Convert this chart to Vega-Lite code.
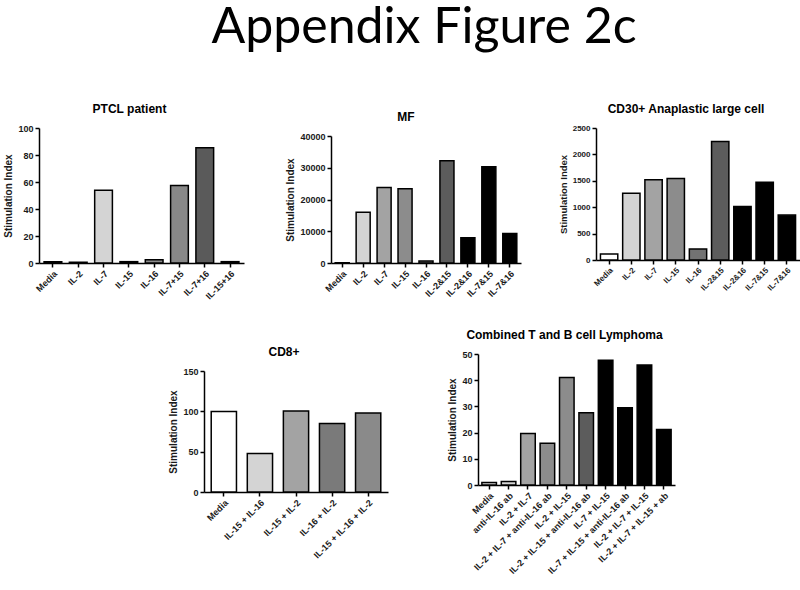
{
  "$schema": "https://vega.github.io/schema/vega-lite/v6.json",
  "background": "white",
  "padding": {"left": 3, "top": 3, "right": 0, "bottom": 0},
  "title": {"text": "Appendix Figure 2c", "font": "Lato", "fontSize": 50, "fontWeight": "normal", "color": "black", "anchor": "middle", "dx": 22, "offset": 49},
  "datasets": {
    "ptcl": [
      {"condition": "Media", "index": 1},
      {"condition": "IL-2", "index": 0.5},
      {"condition": "IL-7", "index": 53.8},
      {"condition": "IL-15", "index": 1},
      {"condition": "IL-16", "index": 2.5},
      {"condition": "IL-7+15", "index": 57.5},
      {"condition": "IL-7+16", "index": 85.4},
      {"condition": "IL-15+16", "index": 1}
    ],
    "mf": [
      {"condition": "Media", "index": 100},
      {"condition": "IL-2", "index": 15980},
      {"condition": "IL-7", "index": 23800},
      {"condition": "IL-15", "index": 23400},
      {"condition": "IL-16", "index": 630},
      {"condition": "IL-2&15", "index": 32170},
      {"condition": "IL-2&16", "index": 7940},
      {"condition": "IL-7&15", "index": 30290},
      {"condition": "IL-7&16", "index": 9300}
    ],
    "cd30": [
      {"condition": "Media", "index": 113},
      {"condition": "IL-2", "index": 1266},
      {"condition": "IL-7", "index": 1518},
      {"condition": "IL-15", "index": 1543},
      {"condition": "IL-16", "index": 208},
      {"condition": "IL-2&15", "index": 2242},
      {"condition": "IL-2&16", "index": 1014},
      {"condition": "IL-7&15", "index": 1474},
      {"condition": "IL-7&16", "index": 850}
    ],
    "cd8": [
      {"condition": "Media", "index": 99.7},
      {"condition": "IL-15 + IL-16", "index": 47.8},
      {"condition": "IL-15 + IL-2", "index": 100.5},
      {"condition": "IL-16 + IL-2", "index": 84.9},
      {"condition": "IL-15 + IL-16 + IL-2", "index": 98}
    ],
    "combined": [
      {"condition": "Media", "index": 1.0},
      {"condition": "anti-IL-16 ab", "index": 1.3},
      {"condition": "IL-2 + IL-7", "index": 19.7},
      {"condition": "IL-2 + IL-7 + anti-IL-16 ab", "index": 15.9},
      {"condition": "IL-2 + IL-15", "index": 41},
      {"condition": "IL-2 + IL-15 + anti-IL-16 ab", "index": 27.6},
      {"condition": "IL-7 + IL-15", "index": 47.6},
      {"condition": "IL-7 + IL-15 + anti-IL-16 ab", "index": 29.5},
      {"condition": "IL-2 + IL-7 + IL-15", "index": 45.8},
      {"condition": "IL-2 + IL-7 + IL-15 + ab", "index": 21.2}
    ]
  },
  "resolve": {"scale": {"color": "independent"}},
  "spacing": 23,
  "vconcat": [
    {
      "spacing": 37,
      "resolve": {"scale": {"color": "independent"}},
      "hconcat": [
        {
          "spacing": 41,
          "resolve": {"scale": {"color": "independent"}},
          "hconcat": [
            {
              "spacing": 0,
              "resolve": {"scale": {"color": "independent"}},
              "vconcat": [
                {"data": {"values": []}, "mark": "point", "width": 10, "height": 1, "encoding": {}},
                {
                  "data": {"name": "ptcl"},
                  "width": 205, "height": 135,
                  "title": {"text": "PTCL patient", "dx": -12},
                  "mark": {"type": "bar", "stroke": "black", "strokeWidth": 1.5},
                  "encoding": {
                    "x": {"field": "condition", "type": "nominal", "sort": null, "scale": {"paddingInner": 0.3, "paddingOuter": 0.2}},
                    "y": {"field": "index", "type": "quantitative", "scale": {"domain": [0, 100], "nice": false}, "axis": {"title": "Stimulation Index", "values": [0, 20, 40, 60, 80, 100]}},
                    "color": {"field": "condition", "type": "nominal", "sort": null, "legend": null,
                      "scale": {"domain": ["Media", "IL-2", "IL-7", "IL-15", "IL-16", "IL-7+15", "IL-7+16", "IL-15+16"],
                                "range": ["#ffffff", "#ffffff", "#d4d4d4", "#a3a3a3", "#8a8a8a", "#888888", "#5a5a5a", "#444444"]}}
                  }
                }
              ]
            },
            {
              "spacing": 0,
              "resolve": {"scale": {"color": "independent"}},
              "vconcat": [
                {"data": {"values": []}, "mark": "point", "width": 10, "height": 9, "encoding": {}},
                {
                  "data": {"name": "mf"},
                  "width": 190, "height": 127,
                  "title": {"text": "MF", "dx": -20},
                  "mark": {"type": "bar", "stroke": "black", "strokeWidth": 1.5},
                  "encoding": {
                    "x": {"field": "condition", "type": "nominal", "sort": null, "scale": {"paddingInner": 0.33, "paddingOuter": 0.2}},
                    "y": {"field": "index", "type": "quantitative", "scale": {"domain": [0, 40000], "nice": false}, "axis": {"title": "Stimulation Index", "format": "d", "values": [0, 10000, 20000, 30000, 40000]}},
                    "color": {"field": "condition", "type": "nominal", "sort": null, "legend": null,
                      "scale": {"domain": ["Media", "IL-2", "IL-7", "IL-15", "IL-16", "IL-2&15", "IL-2&16", "IL-7&15", "IL-7&16"],
                                "range": ["#ffffff", "#d4d4d4", "#a3a3a3", "#8c8c8c", "#737373", "#5c5c5c", "#000000", "#000000", "#000000"]}}
                  }
                }
              ]
            }
          ]
        },
        {
          "spacing": 0,
          "resolve": {"scale": {"color": "independent"}},
          "vconcat": [
            {"data": {"values": []}, "mark": "point", "width": 10, "height": 1, "encoding": {}},
            {
              "data": {"name": "cd30"},
              "width": 204, "height": 132,
              "title": {"text": "CD30+ Anaplastic large cell", "dx": -12},
              "mark": {"type": "bar", "stroke": "black", "strokeWidth": 1.5},
              "encoding": {
                "x": {"field": "condition", "type": "nominal", "sort": null, "scale": {"paddingInner": 0.22, "paddingOuter": 0.2}, "axis": {"labelFontSize": 8}},
                "y": {"field": "index", "type": "quantitative", "scale": {"domain": [0, 2500], "nice": false}, "axis": {"title": "Stimulation Index", "format": "d", "values": [0, 500, 1000, 1500, 2000, 2500], "labelFontSize": 8, "titleFontSize": 9.5}},
                "color": {"field": "condition", "type": "nominal", "sort": null, "legend": null,
                  "scale": {"domain": ["Media", "IL-2", "IL-7", "IL-15", "IL-16", "IL-2&15", "IL-2&16", "IL-7&15", "IL-7&16"],
                            "range": ["#ffffff", "#d4d4d4", "#a3a3a3", "#8c8c8c", "#737373", "#5c5c5c", "#000000", "#000000", "#000000"]}}
              }
            }
          ]
        }
      ]
    },
    {
      "spacing": 45,
      "resolve": {"scale": {"color": "independent"}},
      "hconcat": [
        {
          "data": {"values": []},
          "width": 84, "height": 1,
          "mark": "point",
          "encoding": {}
        },
        {
          "spacing": 59,
          "resolve": {"scale": {"color": "independent"}},
          "hconcat": [
            {
              "spacing": 0,
              "resolve": {"scale": {"color": "independent"}},
              "vconcat": [
                {"data": {"values": []}, "mark": "point", "width": 10, "height": 21, "encoding": {}},
                {
                  "data": {"name": "cd8"},
                  "width": 184, "height": 121,
                  "title": {"text": "CD8+", "dx": -12},
                  "mark": {"type": "bar", "stroke": "black", "strokeWidth": 1.5},
                  "encoding": {
                    "x": {"field": "condition", "type": "nominal", "sort": null, "scale": {"paddingInner": 0.3, "paddingOuter": 0.2}},
                    "y": {"field": "index", "type": "quantitative", "scale": {"domain": [0, 150], "nice": false}, "axis": {"title": "Stimulation Index", "values": [0, 50, 100, 150]}},
                    "color": {"field": "condition", "type": "nominal", "sort": null, "legend": null,
                      "scale": {"domain": ["Media", "IL-15 + IL-16", "IL-15 + IL-2", "IL-16 + IL-2", "IL-15 + IL-16 + IL-2"],
                                "range": ["#ffffff", "#d4d4d4", "#a3a3a3", "#7a7a7a", "#8a8a8a"]}}
                  }
                }
              ]
            },
            {
              "spacing": 0,
              "resolve": {"scale": {"color": "independent"}},
              "vconcat": [
                {"data": {"values": []}, "mark": "point", "width": 10, "height": 4, "encoding": {}},
                {
                  "data": {"name": "combined"},
                  "width": 197, "height": 131,
                  "title": {"text": "Combined T and B cell Lymphoma", "dx": -12},
                  "mark": {"type": "bar", "stroke": "black", "strokeWidth": 1.5},
                  "encoding": {
                    "x": {"field": "condition", "type": "nominal", "sort": null, "scale": {"paddingInner": 0.25, "paddingOuter": 0.2}},
                    "y": {"field": "index", "type": "quantitative", "scale": {"domain": [0, 50], "nice": false}, "axis": {"title": "Stimulation Index", "values": [0, 10, 20, 30, 40, 50]}},
                    "color": {"field": "condition", "type": "nominal", "sort": null, "legend": null,
                      "scale": {"domain": ["Media", "anti-IL-16 ab", "IL-2 + IL-7", "IL-2 + IL-7 + anti-IL-16 ab", "IL-2 + IL-15", "IL-2 + IL-15 + anti-IL-16 ab", "IL-7 + IL-15", "IL-7 + IL-15 + anti-IL-16 ab", "IL-2 + IL-7 + IL-15", "IL-2 + IL-7 + IL-15 + ab"],
                                "range": ["#d4d4d4", "#d4d4d4", "#a3a3a3", "#8c8c8c", "#8c8c8c", "#5c5c5c", "#000000", "#000000", "#000000", "#000000"]}}
                  }
                }
              ]
            }
          ]
        }
      ]
    }
  ],
  "config": {
    "view": {"stroke": null},
    "font": "Liberation Sans",
    "axis": {"domainColor": "black", "domainWidth": 1.5, "tickColor": "black", "tickWidth": 1.5, "tickSize": 4,
             "labelFont": "Liberation Sans", "labelFontWeight": "bold", "labelFontSize": 9, "labelColor": "#1a1a1a", "labelPadding": 2,
             "titleFont": "Liberation Sans", "titleFontWeight": "bold", "titleFontSize": 10, "titleColor": "#1a1a1a", "grid": false},
    "axisX": {"labelAngle": -45, "title": null},
    "title": {"font": "Liberation Sans", "fontSize": 12, "fontWeight": "bold", "color": "black", "offset": 8}
  }
}
